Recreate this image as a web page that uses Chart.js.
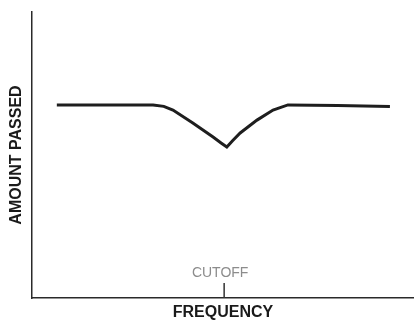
<!DOCTYPE html>
<html>
<head>
<meta charset="utf-8">
<script src="https://cdn.jsdelivr.net/npm/chart.js@4"></script>
<style>
  html, body { margin: 0; padding: 0; background: #fff; }
  #wrap { width: 414px; height: 321px; }
</style>
</head>
<body>
<div id="wrap"><canvas id="c" width="414" height="321"></canvas></div>
<script>
// Frequency response: flat pass band with a notch at the cutoff frequency
const frequency = [6.5, 20, 31.7, 34.5, 36.9, 42.1, 47.4, 49.5, 51.0, 52.5, 54.5, 58.9, 63.1, 67.0, 80, 93.7];
const amountPassed = [67.5, 67.5, 67.5, 67.0, 65.7, 61.2, 56.3, 54.2, 52.8, 55.0, 57.7, 62.2, 65.7, 67.5, 67.3, 67.0];
const cutoffFrequency = 50.3;
const cutoffLabel = 'CUTOFF';
const xTitle = 'FREQUENCY';
const yTitle = 'AMOUNT PASSED';

const points = frequency.map((f, i) => ({ x: f, y: amountPassed[i] }));

// Small marker above the frequency axis at the cutoff, with its label
const cutoffMarker = {
  id: 'cutoffMarker',
  afterDatasetsDraw(chart) {
    const { ctx, scales: { x }, chartArea } = chart;
    const px = x.getPixelForValue(cutoffFrequency);
    ctx.save();
    ctx.strokeStyle = '#333';
    ctx.lineWidth = 1.5;
    ctx.beginPath();
    ctx.moveTo(px, chartArea.bottom - 15);
    ctx.lineTo(px, chartArea.bottom);
    ctx.stroke();
    ctx.fillStyle = '#8c8c8c';
    ctx.font = '14px "Liberation Sans", Arial, sans-serif';
    ctx.textAlign = 'center';
    ctx.textBaseline = 'middle';
    ctx.fillText(cutoffLabel, px - 4, chartArea.bottom - 25);
    ctx.restore();
  }
};

new Chart(document.getElementById('c'), {
  type: 'line',
  data: {
    datasets: [{
      data: points,
      borderColor: '#1e1e1e',
      borderWidth: 3,
      pointRadius: 0,
      tension: 0,
      fill: false
    }]
  },
  options: {
    responsive: false,
    animation: false,
    layout: { padding: { top: 12, right: 0, left: 0, bottom: 0 } },
    plugins: { legend: { display: false }, tooltip: { enabled: false } },
    scales: {
      x: {
        type: 'linear',
        min: 0,
        max: 100,
        grid: { display: false, drawTicks: false },
        border: { display: true, color: '#2a2a2a', width: 1.5 },
        ticks: { display: false },
        title: {
          display: true,
          text: xTitle,
          color: '#1a1a1a',
          font: { family: '"Liberation Sans", Arial, sans-serif', size: 16, weight: 'bold', lineHeight: 1 },
          padding: { top: 0, bottom: 0 }
        },
        afterFit(scale) { scale.height = 23; }
      },
      y: {
        min: 0,
        max: 100,
        grid: { display: false, drawTicks: false },
        border: { display: true, color: '#2a2a2a', width: 1.5 },
        ticks: { display: false },
        title: {
          display: true,
          text: yTitle,
          color: '#1a1a1a',
          font: { family: '"Liberation Sans", Arial, sans-serif', size: 16, weight: 'bold', lineHeight: 1 },
          padding: { top: 9, bottom: 0 }
        },
        afterFit(scale) { scale.width = 32; }
      }
    }
  },
  plugins: [cutoffMarker]
});
</script>
</body>
</html>
